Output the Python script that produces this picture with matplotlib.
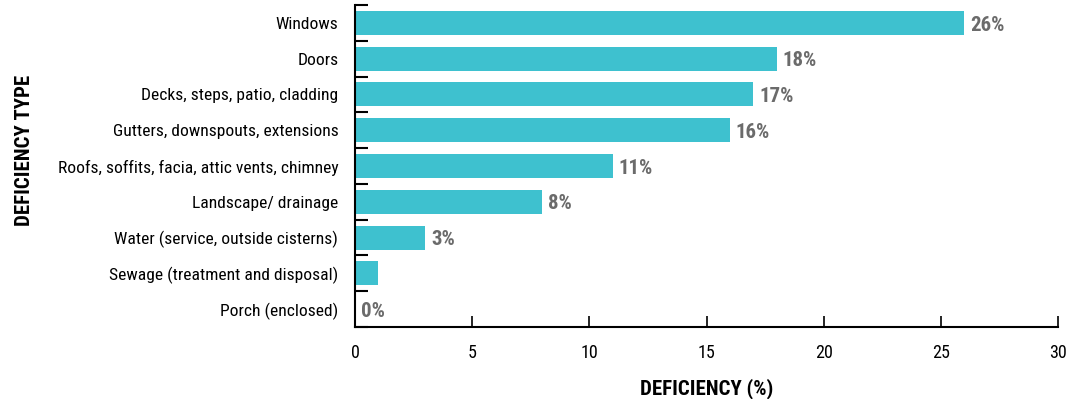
import matplotlib.pyplot as plt

plt.rcParams["font.family"] = ["Roboto Condensed", "DejaVu Sans"]

categories = [
    "Windows",
    "Doors",
    "Decks, steps, patio, cladding",
    "Gutters, downspouts, extensions",
    "Roofs, soffits, facia, attic vents, chimney",
    "Landscape/ drainage",
    "Water (service, outside cisterns)",
    "Sewage (treatment and disposal)",
    "Porch (enclosed)",
]
values = [26, 18, 17, 16, 11, 8, 3, 1, 0]
value_labels = ["26%", "18%", "17%", "16%", "11%", "8%", "3%", "", "0%"]
x_ticks = [0, 5, 10, 15, 20, 25, 30]

fig = plt.figure(figsize=(10.78, 3.99), dpi=100)
ax = fig.add_axes([355 / 1078, 1 - 327 / 399, 703 / 1078, 322 / 399])

pos = list(range(len(categories)))
ax.barh(pos, values, height=0.67, color="#3EC1CF")
for p, v, lab in zip(pos, values, value_labels):
    if lab:
        ax.text(v + 0.25, p + 0.06, lab, va="center", ha="left",
                fontsize=15, fontweight="bold", color="#6b6b6b")

ax.set_ylim(len(categories) - 0.5, -0.5)
ax.set_xlim(0, 30)
ax.set_xticks(x_ticks)
ax.set_xticklabels([str(t) for t in x_ticks], fontsize=13)
ax.set_yticks(pos)
ax.set_yticklabels(categories, fontsize=12.6)
ax.tick_params(axis="y", length=0, pad=12)
ax.set_yticks([p - 0.5 for p in pos] + [len(categories) - 0.5], minor=True)
ax.tick_params(axis="y", which="minor", direction="in", length=9, width=1.5)
ax.tick_params(axis="x", direction="in", length=8, width=1.2, pad=12)

for s in ["top", "right"]:
    ax.spines[s].set_visible(False)
for s in ["left", "bottom"]:
    ax.spines[s].set_linewidth(1.5)

ax.set_xlabel("DEFICIENCY (%)", fontsize=15, fontweight="bold", labelpad=12)
fig.text(25 / 1078, 1 - 150 / 399, "DEFICIENCY TYPE", rotation=90, va="center", ha="center",
         fontsize=15, fontweight="bold")

fig.savefig("out.png", dpi=100)
